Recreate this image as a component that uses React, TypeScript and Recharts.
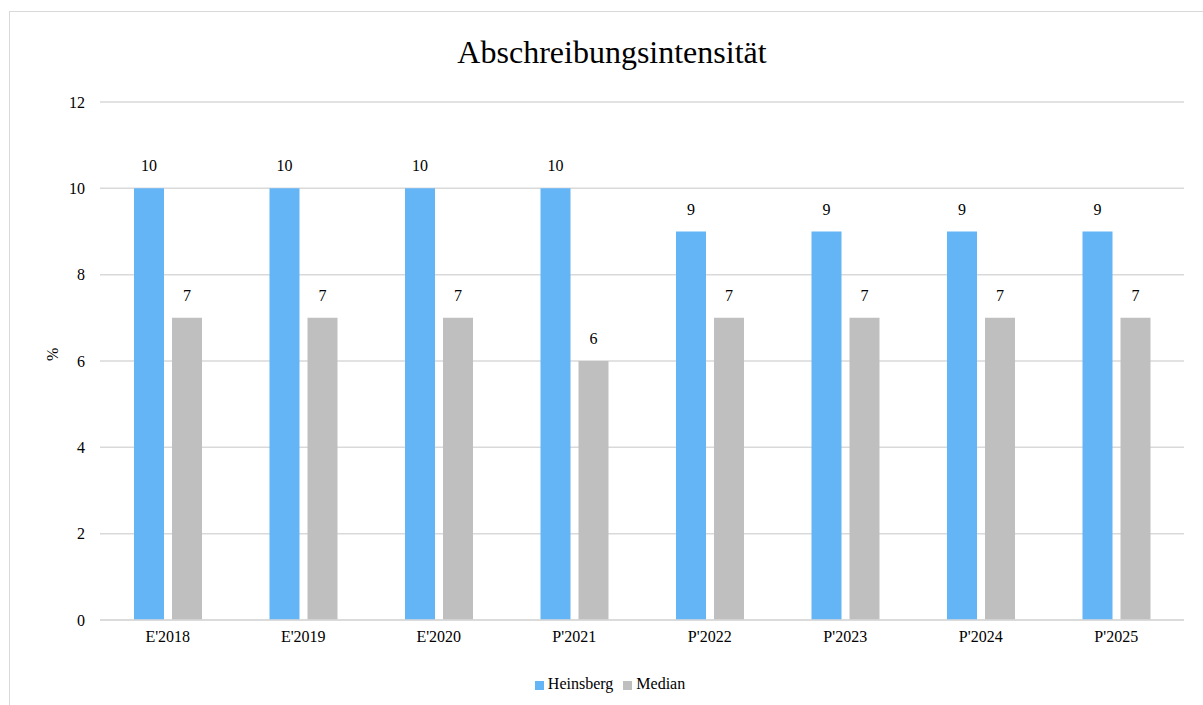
import React from "react";
import {
  BarChart,
  Bar,
  XAxis,
  YAxis,
  CartesianGrid,
  Legend,
  LabelList,
} from "recharts";

const categories = ["E'2018", "E'2019", "E'2020", "P'2021", "P'2022", "P'2023", "P'2024", "P'2025"];
const heinsberg = [10, 10, 10, 10, 9, 9, 9, 9];
const median = [7, 7, 7, 6, 7, 7, 7, 7];
const yTicks = [0, 2, 4, 6, 8, 10, 12];

const data = categories.map((c, i) => ({
  name: c,
  Heinsberg: heinsberg[i],
  Median: median[i],
}));

const FONT = "Liberation Serif, Times New Roman, serif";
const textStyle = { fill: "#000", fontSize: 16, fontFamily: FONT };

export default function App() {
  return (
    <div
      style={{
        position: "fixed",
        left: 0,
        top: 0,
        width: 1203,
        height: 705,
        overflow: "hidden",
        background: "#fff",
        fontFamily: FONT,
      }}
    >
      <div
        style={{
          position: "absolute",
          left: 9,
          top: 11,
          width: 1300,
          height: 800,
          border: "1.5px solid #d9d9d9",
        }}
      />
      <div
        style={{
          position: "absolute",
          left: 0,
          top: 34,
          width: 1224,
          textAlign: "center",
          fontSize: 32,
          color: "#000",
        }}
      >
        Abschreibungsintensität
      </div>
      <div style={{ position: "absolute", left: 0, top: 0 }}>
        <BarChart
          width={1203}
          height={705}
          data={data}
          margin={{ top: 102, right: 19, bottom: 37, left: 0 }}
          barSize={30}
          barGap={8}
          style={{ fontFamily: FONT }}
        >
          <CartesianGrid vertical={false} stroke="#d9d9d9" strokeWidth={1.5} />
          <XAxis
            dataKey="name"
            axisLine={{ stroke: "#d9d9d9", strokeWidth: 1.5 }}
            tickLine={false}
            tickSize={0}
            tickMargin={11}
            tick={textStyle}
          />
          <YAxis
            width={100}
            domain={[0, 12]}
            ticks={yTicks}
            axisLine={false}
            tickLine={false}
            tickSize={0}
            tickMargin={15}
            tick={textStyle}
            label={{
              value: "%",
              angle: -90,
              position: "insideLeft",
              offset: 52,
              style: textStyle,
            }}
          />
          <Legend
            verticalAlign="bottom"
            iconType="square"
            iconSize={9}
            wrapperStyle={{
              left: 40,
              width: 1150,
              bottom: 12,
              fontSize: 16,
              fontFamily: FONT,
            }}
            formatter={(v) => <span style={{ color: "#000", fontFamily: FONT }}>{v}</span>}
          />
          <Bar dataKey="Heinsberg" fill="#64b5f6" isAnimationActive={false}>
            <LabelList dataKey="Heinsberg" position="top" offset={17} style={textStyle} />
          </Bar>
          <Bar dataKey="Median" fill="#bfbfbf" isAnimationActive={false}>
            <LabelList dataKey="Median" position="top" offset={17} style={textStyle} />
          </Bar>
        </BarChart>
      </div>
    </div>
  );
}
